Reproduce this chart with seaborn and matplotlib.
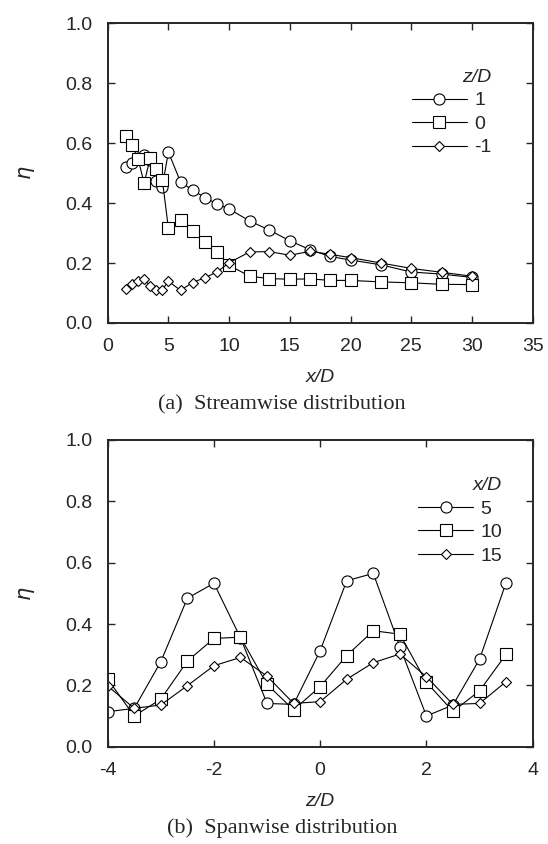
import numpy as np
import pandas as pd
import seaborn as sns
import matplotlib.pyplot as plt

# ---------------- data ----------------
# (a) streamwise distribution, eta vs x/D for three z/D rows
x_stream = [1.5, 2, 2.5, 3, 3.5, 4, 4.5, 5, 6, 7, 8, 9, 10,
            11.7, 13.3, 15, 16.7, 18.3, 20, 22.5, 25, 27.5, 30]
eta_z_p1 = [0.52, 0.535, 0.55, 0.56, 0.545, 0.475, 0.455, 0.57, 0.47, 0.443, 0.418, 0.397, 0.38,
            0.34, 0.31, 0.274, 0.244, 0.222, 0.21, 0.194, 0.17, 0.163, 0.152]
eta_z_0 = [0.625, 0.593, 0.548, 0.466, 0.55, 0.513, 0.477, 0.316, 0.344, 0.308, 0.271, 0.238, 0.192,
           0.156, 0.148, 0.146, 0.147, 0.142, 0.142, 0.137, 0.134, 0.129, 0.128]
eta_z_m1 = [0.112, 0.131, 0.139, 0.146, 0.123, 0.109, 0.111, 0.139, 0.109, 0.135, 0.151, 0.17, 0.201,
            0.237, 0.238, 0.226, 0.239, 0.229, 0.218, 0.2, 0.182, 0.169, 0.156]
z_labels = ['1', '0', '-1']

# (b) spanwise distribution, eta vs z/D for three x/D stations
z_span = [-4, -3.5, -3, -2.5, -2, -1.5, -1, -0.5, 0, 0.5, 1, 1.5, 2, 2.5, 3, 3.5]
eta_x5 = [0.114, 0.125, 0.277, 0.484, 0.533, 0.355, 0.141, 0.138, 0.313, 0.541, 0.565, 0.326,
          0.1, 0.136, 0.285, 0.535]
eta_x10 = [0.22, 0.1, 0.155, 0.279, 0.353, 0.357, 0.203, 0.12, 0.196, 0.297, 0.378, 0.367,
           0.21, 0.115, 0.182, 0.301]
eta_x15 = [0.198, 0.125, 0.136, 0.199, 0.264, 0.291, 0.23, 0.141, 0.147, 0.22, 0.274, 0.302,
           0.228, 0.138, 0.141, 0.212]
x_labels = ['5', '10', '15']

markers = ['o', 's', 'D']
msizes = [8, 8, 5.5]

# ---------------- style ----------------
sns.set_style("ticks")
plt.rcParams['font.family'] = ['Liberation Sans', 'DejaVu Sans']
plt.rcParams['mathtext.fontset'] = 'dejavusans'
plt.rcParams['axes.unicode_minus'] = False
fs = 14

fig = plt.figure(figsize=(5.48, 8.44), dpi=100)
ax_a = fig.add_axes([0.1965, 0.6173, 0.7755, 0.3554])
ax_b = fig.add_axes([0.1965, 0.1153, 0.7755, 0.3634])


def draw(ax, xs, series, labels):
    for ys, lab, mk, ms in zip(series, labels, markers, msizes):
        df = pd.DataFrame({'x': xs, 'eta': ys})
        sns.lineplot(data=df, x='x', y='eta', ax=ax, color='black', lw=0.8,
                     marker=mk, markersize=ms, markerfacecolor='white',
                     markeredgecolor='black', markeredgewidth=0.8, label=lab)


draw(ax_a, x_stream, [eta_z_p1, eta_z_0, eta_z_m1], z_labels)
draw(ax_b, z_span, [eta_x5, eta_x10, eta_x15], x_labels)

for ax in (ax_a, ax_b):
    ax.set_ylim(0, 1.0)
    ax.set_yticks(np.arange(0, 1.01, 0.2))
    ax.yaxis.set_major_formatter(plt.FormatStrFormatter('%.1f'))
    ax.tick_params(direction='in', length=5, width=1, top=True, right=True,
                   labelsize=fs, pad=11)
    for sp in ax.spines.values():
        sp.set_linewidth(1.4)
    ax.set_ylabel(r'$\eta$', fontsize=fs + 1, labelpad=20)

ax_a.set_xlim(0, 35)
ax_a.set_xticks(range(0, 36, 5))
ax_a.set_xlabel('x/D', fontsize=fs, style='italic', labelpad=10)
ax_b.set_xlim(-4, 4)
ax_b.set_xticks(range(-4, 5, 2))
ax_b.set_xlabel('z/D', fontsize=fs, style='italic', labelpad=10)

ax_a.legend(title='z/D', loc='upper right', bbox_to_anchor=(0.945, 0.905), frameon=False,
            fontsize=fs, handlelength=2.8, handletextpad=0.4, labelspacing=0.3,
            alignment='right', title_fontproperties={'style': 'italic', 'size': fs})
ax_b.legend(title='x/D', loc='upper right', bbox_to_anchor=(0.97, 0.935), frameon=False,
            fontsize=fs, handlelength=2.8, handletextpad=0.4, labelspacing=0.3,
            alignment='right', title_fontproperties={'style': 'italic', 'size': fs})

fig.text(0.515, 1 - 405 / 844, '(a)  Streamwise distribution', ha='center', va='center',
         family='Liberation Serif', fontsize=16)
fig.text(0.515, 1 - 828 / 844, '(b)  Spanwise distribution', ha='center', va='center',
         family='Liberation Serif', fontsize=16)

fig.savefig('out.png', dpi=100)
